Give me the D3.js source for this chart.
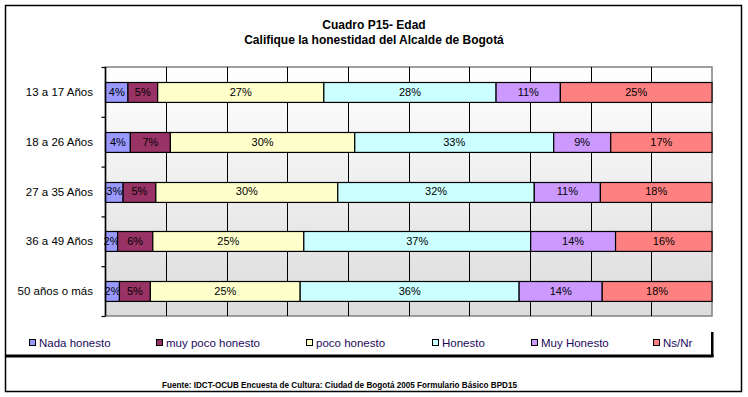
<!DOCTYPE html>
<html>
<head>
<meta charset="utf-8">
<script src="https://cdn.jsdelivr.net/npm/d3@7"></script>
<style>
  body { margin: 0; background: #fff; }
  svg text { font-family: "Liberation Sans", Arial, sans-serif; }
</style>
</head>
<body>
<svg id="chart" width="748" height="397"></svg>
<script>
// data (percent of each age group)
const categories = ["13 a 17 Años", "18 a 26 Años", "27 a 35 Años", "36 a 49 Años", "50 años o más"];
const seriesNames = ["Nada honesto", "muy poco honesto", "poco honesto", "Honesto", "Muy Honesto", "Ns/Nr"];
const nadaHonesto    = [3.7, 4.1, 2.9, 2.0, 2.3];
const muyPocoHonesto = [4.9, 6.6, 5.4, 5.8, 5.1];
const pocoHonesto    = [27.4, 30.4, 30.0, 24.9, 24.7];
const honesto        = [28.4, 32.8, 32.4, 37.4, 36.1];
const muyHonesto     = [10.6, 9.4, 10.9, 14.0, 13.7];
const nsNr           = [25.0, 16.7, 18.4, 15.9, 18.1];
const xTicks = [0, 10, 20, 30, 40, 50, 60, 70, 80, 90, 100];

const seriesValues = [nadaHonesto, muyPocoHonesto, pocoHonesto, honesto, muyHonesto, nsNr];
const colors = ["#9999FF", "#993366", "#FFFFCC", "#CCFFFF", "#CC99FF", "#FF8080"];

const svg = d3.select("#chart");

const plot = {left: 105.5, right: 712, top: 67, bottom: 316};

// outer frame
svg.append("rect")
    .attr("x", 5.5).attr("y", 5.5)
    .attr("width", 736).attr("height", 386)
    .attr("fill", "#fff")
    .attr("stroke", "#000")
    .attr("stroke-width", 1.5);

// titles
svg.append("text")
    .attr("x", 374).attr("y", 28.5)
    .attr("text-anchor", "middle")
    .style("font-size", "12px").style("font-weight", "bold")
    .text("Cuadro P15- Edad");
svg.append("text")
    .attr("x", 374).attr("y", 44)
    .attr("text-anchor", "middle")
    .style("font-size", "12px").style("font-weight", "bold")
    .text("Califique la honestidad del Alcalde de Bogotá");

// plot background gradient
const grad = svg.append("defs").append("linearGradient")
    .attr("id", "bg").attr("x1", 0).attr("y1", 0).attr("x2", 0).attr("y2", 1);
grad.append("stop").attr("offset", "0%").attr("stop-color", "#ffffff");
grad.append("stop").attr("offset", "100%").attr("stop-color", "#dcdcdc");

svg.append("rect")
    .attr("x", plot.left).attr("y", plot.top)
    .attr("width", plot.right - plot.left).attr("height", plot.bottom - plot.top)
    .attr("fill", "url(#bg)")
    .attr("stroke", "#808080")
    .attr("stroke-width", 1.5);

const x = d3.scaleLinear().domain([0, 100]).range([plot.left, plot.right]);
const y = d3.scaleBand().domain(categories).range([plot.top, plot.bottom]).paddingInner(0.6).paddingOuter(0.3);

// vertical grid
svg.append("g")
    .selectAll("line")
    .data(xTicks.slice(1, -1))
    .join("line")
    .attr("x1", d => Math.round(x(d)) + 0.5).attr("x2", d => Math.round(x(d)) + 0.5)
    .attr("y1", plot.top).attr("y2", plot.bottom)
    .attr("stroke", "#000")
    .attr("stroke-width", 1);

// stacked bars
const rows = categories.map((c, i) => {
    let acc = 0;
    return seriesValues.map((vals, s) => {
        const seg = {cat: c, series: s, x0: acc, x1: acc + vals[i], value: vals[i]};
        acc += vals[i];
        return seg;
    });
}).flat();

const segs = svg.append("g").selectAll("g").data(rows).join("g");

segs.append("rect")
    .attr("x", d => x(d.x0))
    .attr("y", d => Math.round(y(d.cat)) + 0.5)
    .attr("width", d => x(d.x1) - x(d.x0))
    .attr("height", y.bandwidth())
    .attr("fill", d => colors[d.series])
    .attr("stroke", "#000")
    .attr("stroke-width", 1.2);

segs.append("text")
    .attr("x", d => (x(d.x0) + x(d.x1)) / 2)
    .attr("y", d => y(d.cat) + y.bandwidth() / 2)
    .attr("dy", "0.36em")
    .attr("text-anchor", "middle")
    .style("font-size", "11px")
    .attr("fill", "#000")
    .text(d => d3.format(".0f")(d.value) + "%");

// category axis: labels at centers, ticks at band edges
const yLin = d3.scaleLinear().domain([0, categories.length]).range([plot.top, plot.bottom]);
svg.append("g")
    .attr("transform", `translate(${plot.left},0)`)
    .call(d3.axisLeft(yLin).ticks(categories.length).tickSize(4).tickFormat(""))
    .call(g => g.select(".domain").attr("stroke", "#000").attr("stroke-width", 1.5).attr("d", `M0,${plot.top}V${plot.bottom}`))
    .call(g => g.selectAll(".tick line").attr("stroke", "#000").attr("stroke-width", 1.2));

svg.append("g")
    .selectAll("text")
    .data(categories)
    .join("text")
    .attr("x", 93)
    .attr("y", d => y(d) + y.bandwidth() / 2)
    .attr("dy", "0.36em")
    .attr("text-anchor", "end")
    .style("font-size", "11.5px")
    .attr("fill", "#000")
    .text(d => d);

// legend
const legendX = [29, 156, 306, 432, 531, 653];
const legend = svg.append("g").selectAll("g").data(seriesNames).join("g")
    .attr("transform", (d, i) => `translate(${legendX[i]},343)`);
legend.append("rect")
    .attr("x", 0.5).attr("y", -3.5)
    .attr("width", 6).attr("height", 6)
    .attr("fill", (d, i) => colors[i])
    .attr("stroke", "#000");
legend.append("text")
    .attr("x", 10).attr("y", 0)
    .attr("dy", "0.36em")
    .style("font-size", "11.5px")
    .attr("fill", "#1c0a5c")
    .text(d => d);

svg.append("rect").attr("x", 6).attr("y", 354.5).attr("width", 707.5).attr("height", 3).attr("fill", "#000");
svg.append("rect").attr("x", 711).attr("y", 332).attr("width", 2.5).attr("height", 25).attr("fill", "#000");

// source note
svg.append("text")
    .attr("x", 162).attr("y", 388)
    .attr("textLength", 355)
    .attr("lengthAdjust", "spacingAndGlyphs")
    .style("font-size", "8.5px").style("font-weight", "bold")
    .text("Fuente: IDCT-OCUB Encuesta de Cultura: Ciudad de Bogotá 2005 Formulario Básico BPD15");
</script>
</body>
</html>
